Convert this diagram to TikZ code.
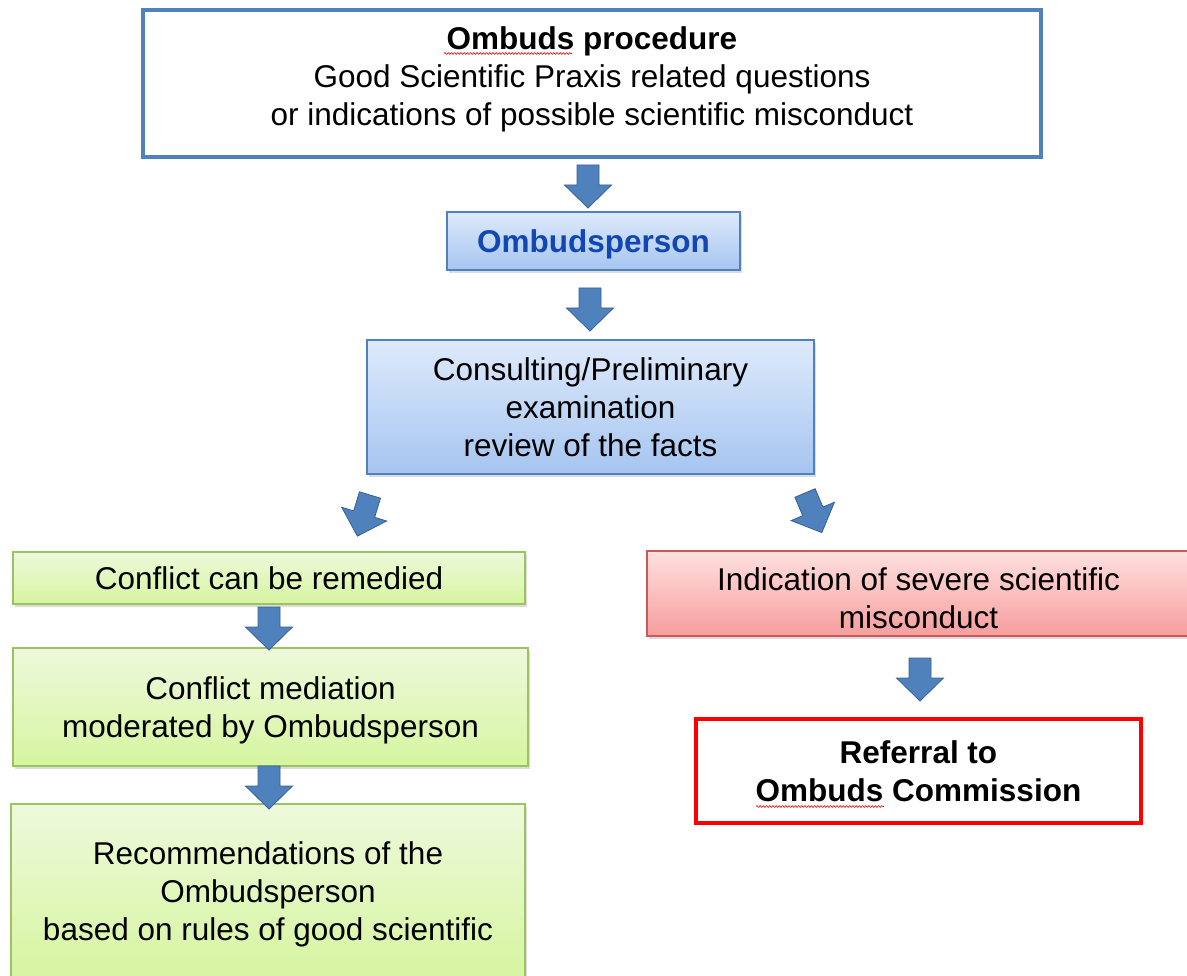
\documentclass[tikz,border=0pt]{standalone}
\usepackage{fontspec}
\setmainfont{Liberation Sans}
\usetikzlibrary{shadows,decorations.pathmorphing}
\definecolor{bluebd}{RGB}{79,129,189}
\definecolor{bluetop}{RGB}{222,234,251}
\definecolor{bluebot}{RGB}{166,197,240}
\definecolor{ombtext}{RGB}{18,70,178}
\definecolor{greenbd}{RGB}{155,195,95}
\definecolor{greentop}{RGB}{238,249,220}
\definecolor{greenbot}{RGB}{214,245,160}
\definecolor{redbd}{RGB}{200,90,88}
\definecolor{redtop}{RGB}{255,224,224}
\definecolor{redbot}{RGB}{245,158,156}
\definecolor{arrowblue}{RGB}{79,129,189}
\definecolor{arrowedge}{RGB}{56,96,150}
\definecolor{strongred}{RGB}{255,0,0}
\newcommand\mainfs{\fontsize{31.5}{38}\selectfont}
\newcommand\dnstrut[1]{\rule[-#1]{0pt}{#1}}
\newcommand\upstrut[1]{\rule{0pt}{#1}}
\begin{document}
\begin{tikzpicture}[x=1pt,y=-1pt,
  box/.style={rectangle, draw, align=center, inner sep=0pt, font=\mainfs, text=black},
  shad/.style={drop shadow={opacity=0.28, shadow xshift=2pt, shadow yshift=-3pt}},
  bluebox/.style={box, shad, draw=bluebd, line width=1.5pt, top color=bluetop, bottom color=bluebot},
  greenbox/.style={box, shad, draw=greenbd, line width=1.5pt, top color=greentop, bottom color=greenbot},
  redbox/.style={box, shad, draw=redbd, line width=1.5pt, top color=redtop, bottom color=redbot},
  arrowshape/.style={fill=arrowblue, draw=arrowedge, line width=0.8pt, line join=miter},
  barrow/.pic={\path[arrowshape] (-11,0) -- (11,0) -- (11,20) -- (23.5,20) -- (0,43) -- (-23.5,20) -- (-11,20) -- cycle;},
  spell/.style={draw=red, line width=0.6pt, decorate, decoration={snake, amplitude=0.9pt, segment length=3.2pt}}
]
\useasboundingbox (0,0) rectangle (1187,976);

% boxes
\node[box, draw=bluebd, line width=4pt, fill=white, minimum width=898pt, minimum height=147pt] (top) at (592,83.5)
  {\textbf{Ombuds procedure}\\Good Scientific Praxis related questions\\or indications of possible scientific misconduct\dnstrut{15pt}};
\node[bluebox, minimum width=293pt, minimum height=58pt, text=ombtext, font=\mainfs\bfseries, text depth=0pt] (omb) at (593.5,241) {Ombudsperson};
\node[bluebox, minimum width=447pt, minimum height=134pt] (cons) at (590.5,407)
  {Consulting/Preliminary\\examination\\review of the facts};
\node[greenbox, minimum width=512pt, minimum height=52pt] (g1) at (269,578) {Conflict can be remedied};
\node[greenbox, minimum width=515pt, minimum height=118pt] (g2) at (270.5,707)
  {Conflict mediation\\\smash{moderated by Ombudsperson}};
\node[greenbox, minimum width=514pt, minimum height=174pt] (g3) at (268,891)
  {Recommendations of the\\Ombudsperson\\\smash{based on rules of good scientific}};
\node[redbox, minimum width=543pt, minimum height=85pt] (red) at (918.5,593.5)
  {\upstrut{32pt}Indication of severe scientific\\misconduct};
\node[box, draw=strongred, line width=4.5pt, fill=white, minimum width=445pt, minimum height=104pt, font=\mainfs\bfseries] (ref) at (918.5,771)
  {Referral to\\Ombuds Commission};

% spell-check underlines
\draw[spell] (444,53.5) -- (572,53.5);
\draw[spell] (756,806.5) -- (884,806.5);

% block arrows
\pic (a1) at (588,165) {barrow};
\pic (a2) at (590,288) {barrow};
\pic[rotate=-17] (a3) at (370,495) {barrow};
\pic[rotate=23] (a4) at (805,493) {barrow};
\pic (a5) at (269,607) {barrow};
\pic (a6) at (269,766) {barrow};
\pic (a7) at (920,658) {barrow};
\end{tikzpicture}
\end{document}
